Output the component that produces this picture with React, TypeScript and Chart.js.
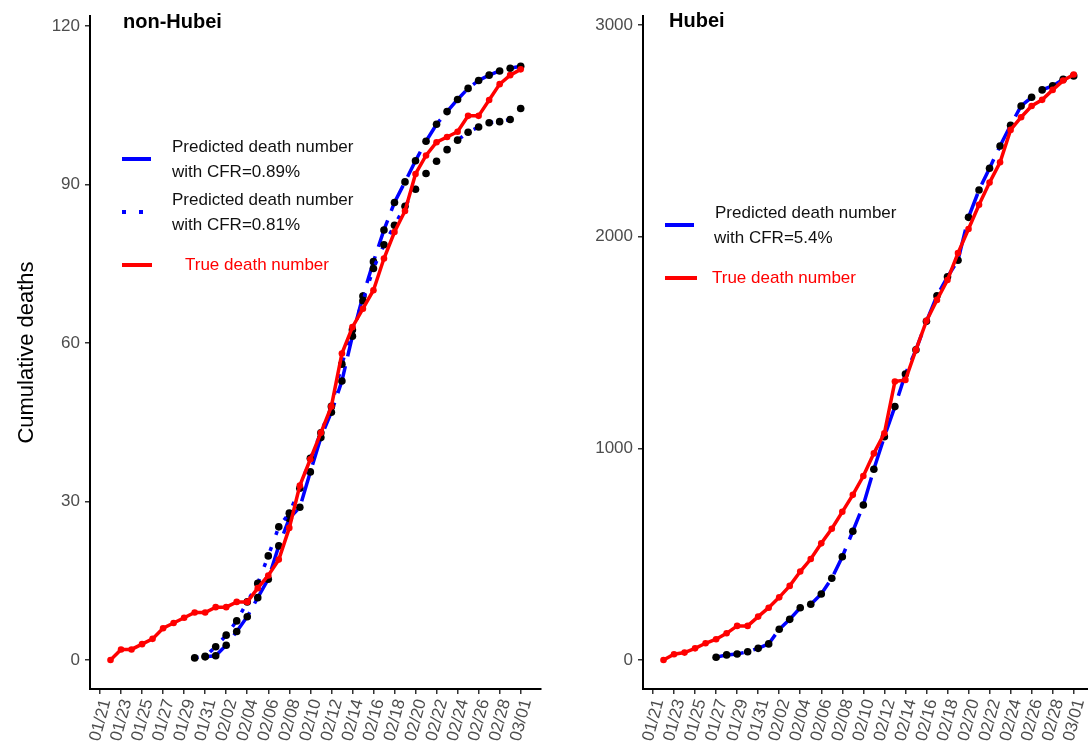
import React, { useEffect, useRef } from "react";
import { Chart, registerables } from "chart.js";

Chart.register(...registerables);
Chart.defaults.font.family = "'Liberation Sans', Arial, Helvetica, sans-serif";

// x axis: days counted from 01/21 (day 0)
const xTickDays = [0, 2, 4, 6, 8, 10, 12, 14, 16, 18, 20, 22, 24, 26, 28, 30, 32, 34, 36, 38, 40];
const xTickLabels = [
  "01/21", "01/23", "01/25", "01/27", "01/29", "01/31", "02/02", "02/04", "02/06", "02/08",
  "02/10", "02/12", "02/14", "02/16", "02/18", "02/20", "02/22", "02/24", "02/26", "02/28", "03/01",
];

// non-Hubei
const nonHubeiTrueStart = 1; // 01/22
const nonHubeiTrue = [
  0, 2, 2, 3, 4, 6, 7, 8, 9, 9,
  10, 10, 11, 11, 13.6, 16, 19, 25, 33, 38,
  43, 48, 58, 63, 66.5, 70, 76, 81, 85, 92,
  95.5, 98, 99, 100, 103, 103, 106, 109, 110.7, 111.8,
];
const nonHubeiPred089Start = 10; // 01/31
const nonHubeiPred089 = [
  0.6, 0.8, 2.8, 5.4, 8.2, 11.8, 15.3, 21.6, 26.8, 28.9,
  35.6, 42.1, 46.9, 52.8, 61.3, 68.9, 75.4, 81.4, 86.6, 90.5,
  94.5, 98.2, 101.4, 103.8, 106.1, 108.2, 109.7, 110.7, 111.5, 112.0, 112.4,
];
const nonHubeiPred081Start = 9; // 01/30
const nonHubeiPred081 = [
  0.4, 0.7, 2.5, 4.7, 7.4, 11.0, 14.5, 19.7, 25.2, 27.8,
  32.5, 38.2, 43.0, 48.0, 56.0, 62.5, 68.0, 74.1, 78.6, 82.3,
  85.9, 89.1, 92.1, 94.4, 96.6, 98.4, 99.9, 100.9, 101.7, 101.9, 102.3, 104.4,
];
const nonHubeiYTicks = [0, 30, 60, 90, 120];

// Hubei
const hubeiTrueStart = 1;
const hubeiTrue = [
  0, 27, 35, 55, 79, 98, 126, 161, 161, 205,
  247, 296, 350, 418, 477, 551, 620, 700, 780, 869,
  976, 1071, 1315, 1323, 1465, 1602, 1701, 1795, 1922, 2036,
  2150, 2255, 2351, 2504, 2564, 2617, 2646, 2693, 2737, 2766,
];
const hubeiPredStart = 6; // 01/27
const hubeiPred054 = [
  13, 24, 28, 39, 55, 76, 145, 192, 247, 263,
  312, 386, 488, 608, 732, 901, 1055, 1197, 1351, 1465,
  1600, 1720, 1810, 1888, 2091, 2220, 2323, 2428, 2526, 2617,
  2658, 2693, 2712, 2743, 2759,
];
const hubeiYTicks = [0, 1000, 2000, 3000];

const RED = "#FF0000";
const BLUE = "#0000FF";
const FONT = "'Liberation Sans', Arial, Helvetica, sans-serif";

function toPoints(values: number[], start: number) {
  return values.map((v, i) => ({ x: start + i, y: v }));
}

function keyLine(ctx: CanvasRenderingContext2D, x1: number, x2: number, y: number, color: string, dash: number[]) {
  ctx.save();
  ctx.beginPath();
  ctx.setLineDash(dash);
  ctx.lineCap = "butt";
  ctx.lineWidth = 4;
  ctx.strokeStyle = color;
  ctx.moveTo(x1, y);
  ctx.lineTo(x2, y);
  ctx.stroke();
  ctx.restore();
}

function text(ctx: CanvasRenderingContext2D, s: string, x: number, y: number, color: string, font: string) {
  ctx.save();
  ctx.font = font;
  ctx.fillStyle = color;
  ctx.textAlign = "left";
  ctx.textBaseline = "middle";
  ctx.fillText(s, x, y);
  ctx.restore();
}

function lineDataset(label: string, pts: { x: number; y: number }[], lineColor: string, dash: number[], pointColor: string, radius: number, order: number) {
  return {
    label,
    data: pts,
    borderColor: lineColor,
    borderWidth: 3.5,
    borderDash: dash,
    borderCapStyle: "butt" as const,
    tension: 0,
    fill: false,
    pointRadius: radius,
    pointHoverRadius: radius,
    pointBackgroundColor: pointColor,
    pointBorderColor: pointColor,
    pointBorderWidth: 0,
    order,
  };
}

function makeChart(
  canvas: HTMLCanvasElement,
  datasets: any[],
  yTicks: number[],
  yMin: number,
  yMax: number,
  yWidth: number,
  padRight: number,
  yTitle: string | null,
  overlay: (ctx: CanvasRenderingContext2D) => void
) {
  const grid = { drawOnChartArea: false, drawTicks: true, tickLength: 5, color: "#333333", lineWidth: 1.5 };
  const border = { display: true, color: "#000000", width: 2 };
  return new Chart(canvas, {
    type: "line",
    data: { datasets },
    options: {
      responsive: false,
      animation: false,
      events: [],
      layout: { padding: { left: 0, right: padRight, top: 16, bottom: 0 } },
      plugins: { legend: { display: false }, tooltip: { enabled: false }, title: { display: false } },
      scales: {
        x: {
          type: "linear",
          min: -0.95,
          max: 41.95,
          bounds: "data",
          afterBuildTicks: (s: any) => {
            s.ticks = xTickDays.map((v) => ({ value: v }));
          },
          afterFit: (s: any) => {
            s.height = 58;
            s.paddingLeft = 0;
            s.paddingRight = 0;
          },
          ticks: {
            autoSkip: false,
            minRotation: 75,
            maxRotation: 75,
            padding: 3,
            labelOffset: 6,
            color: "#4d4d4d",
            font: { size: 17, family: FONT },
            callback: (_v: any, i: number) => xTickLabels[i],
          },
          grid,
          border,
        },
        y: {
          type: "linear",
          min: yMin,
          max: yMax,
          bounds: "data",
          afterBuildTicks: (s: any) => {
            s.ticks = yTicks.map((v) => ({ value: v }));
          },
          afterFit: (s: any) => {
            s.width = yWidth;
            s.paddingTop = 0;
            s.paddingBottom = 0;
          },
          ticks: {
            padding: 5,
            color: "#4d4d4d",
            font: { size: 17, family: FONT },
            callback: (v: any) => String(v),
          },
          grid,
          border,
          title: {
            display: !!yTitle,
            text: yTitle || "",
            color: "#000000",
            font: { size: 22, family: FONT },
            padding: { top: 14, bottom: 0 },
          },
        },
      },
    } as any,
    plugins: [
      {
        id: "overlay",
        afterDraw(chart: any) {
          overlay(chart.ctx);
        },
      },
    ],
  });
}

export default function App() {
  const leftRef = useRef<HTMLCanvasElement>(null);
  const rightRef = useRef<HTMLCanvasElement>(null);

  useEffect(() => {
    const legendFont = `17px ${FONT}`;
    const titleFont = `bold 20px ${FONT}`;

    const left = makeChart(
      leftRef.current!,
      [
        lineDataset("True death number", toPoints(nonHubeiTrue, nonHubeiTrueStart), RED, [], RED, 3.3, 0),
        lineDataset("Predicted death number with CFR=0.81%", toPoints(nonHubeiPred081, nonHubeiPred081Start), BLUE, [4, 13], "#000000", 3.8, 1),
        lineDataset("Predicted death number with CFR=0.89%", toPoints(nonHubeiPred089, nonHubeiPred089Start), BLUE, [28, 10], "#000000", 3.8, 2),
      ],
      nonHubeiYTicks,
      -5.49,
      121.9,
      90,
      2,
      "Cumulative deaths",
      (ctx) => {
        text(ctx, "non-Hubei", 123, 22, "#000000", titleFont);
        keyLine(ctx, 122, 151, 159, BLUE, []);
        text(ctx, "Predicted death number", 172, 147, "#111111", legendFont);
        text(ctx, "with CFR=0.89%", 172, 172, "#111111", legendFont);
        keyLine(ctx, 122, 151, 212, BLUE, [4, 13]);
        text(ctx, "Predicted death number", 172, 200, "#111111", legendFont);
        text(ctx, "with CFR=0.81%", 172, 225, "#111111", legendFont);
        keyLine(ctx, 122, 152, 265, RED, []);
        text(ctx, "True death number", 185, 265, RED, legendFont);
      }
    );

    const right = makeChart(
      rightRef.current!,
      [
        lineDataset("True death number", toPoints(hubeiTrue, hubeiTrueStart), RED, [], RED, 3.3, 0),
        lineDataset("Predicted death number with CFR=5.4%", toPoints(hubeiPred054, hubeiPredStart), BLUE, [28, 10], "#000000", 3.8, 1),
      ],
      hubeiYTicks,
      -137,
      3042,
      98,
      0,
      null,
      (ctx) => {
        text(ctx, "Hubei", 124, 21, "#000000", titleFont);
        keyLine(ctx, 120, 149, 225, BLUE, []);
        text(ctx, "Predicted death number", 170, 213, "#111111", legendFont);
        text(ctx, "with CFR=5.4%", 169, 238, "#111111", legendFont);
        keyLine(ctx, 120, 152, 278, RED, []);
        text(ctx, "True death number", 167, 278, RED, legendFont);
      }
    );

    return () => {
      left.destroy();
      right.destroy();
    };
  }, []);

  return (
    <div
      style={{
        position: "fixed",
        left: 0,
        top: 0,
        width: 1088,
        height: 747,
        overflow: "hidden",
        background: "#ffffff",
      }}
    >
      <canvas ref={leftRef} width={545} height={747} style={{ position: "absolute", left: 0, top: 0 }} />
      <canvas ref={rightRef} width={553} height={747} style={{ position: "absolute", left: 545, top: 0 }} />
    </div>
  );
}
